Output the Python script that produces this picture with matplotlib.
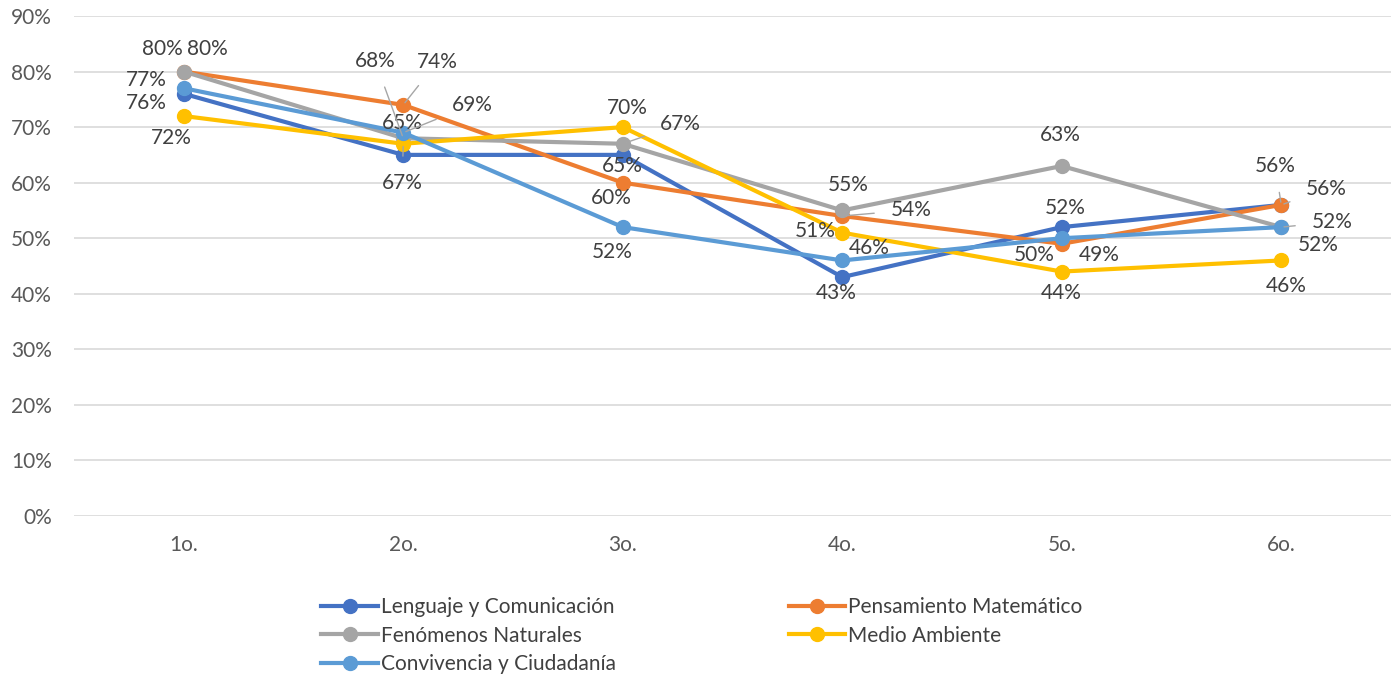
import numpy as np
import matplotlib.pyplot as plt
from matplotlib.lines import Line2D

plt.rcParams['font.family'] = ['Lato', 'DejaVu Sans']

grados = ["1o.", "2o.", "3o.", "4o.", "5o.", "6o."]
lenguaje = [76, 65, 65, 43, 52, 56]
pensamiento = [80, 74, 60, 54, 49, 56]
fenomenos = [80, 68, 67, 55, 63, 52]
medio = [72, 67, 70, 51, 44, 46]
convivencia = [77, 69, 52, 46, 50, 52]

series = [
    ("Lenguaje y Comunicación", lenguaje, "#4472C4"),
    ("Pensamiento Matemático", pensamiento, "#ED7D31"),
    ("Fenómenos Naturales", fenomenos, "#A5A5A5"),
    ("Medio Ambiente", medio, "#FFC000"),
    ("Convivencia y Ciudadanía", convivencia, "#5B9BD5"),
]

# label offsets in pixels (dx, dy, leader line?) per series / category
offsets = {
    "Lenguaje y Comunicación": [(-37, -9, 0), (-1, 32, 0), (0, -11, 0), (-6, -16, 0), (3, 19, 0), (-6, 39, 1)],
    "Pensamiento Matemático": [(24, 23, 0), (34, 43, 1), (-11, -15, 0), (69, 6, 1), (37, -11, 0), (45, 16, 1)],
    "Fenómenos Naturales": [(-21, 23, 0), (-28, 77, 1), (58, 20, 1), (6, 25, 0), (-1, 31, 0), (51, 5, 1)],
    "Medio Ambiente": [(-12, -22, 0), (-1, -39, 1), (5, 19, 0), (-27, 2, 0), (-1, -21, 0), (5, -26, 0)],
    "Convivencia y Ciudadanía": [(-37, 8, 0), (69, 28, 1), (-11, -25, 0), (27, 12, 0), (-28, -17, 0), (37, -18, 0)],
}

fig = plt.figure(figsize=(13.98, 6.76), dpi=100)
ax = fig.add_axes([74 / 1398, 1 - 516 / 676, (1391 - 74) / 1398, 500 / 676])

x = np.arange(len(grados))
txt_color = "#404040"
fs = 15

for name, vals, col in series:
    ax.plot(x, vals, color=col, lw=3, marker="o", ms=10, label=name, zorder=3,
            solid_capstyle="round")

for name, vals, col in series:
    for i, v in enumerate(vals):
        dx, dy, lead = offsets[name][i]
        if lead:
            ax.annotate(f"{v}%", (x[i], v), xytext=(dx, dy), textcoords="offset pixels",
                        ha="center", va="center", fontsize=fs, color=txt_color, zorder=5,
                        arrowprops=dict(arrowstyle="-", color="#A6A6A6", lw=1,
                                        shrinkA=10, shrinkB=2))
        else:
            ax.annotate(f"{v}%", (x[i], v), xytext=(dx, dy), textcoords="offset pixels",
                        ha="center", va="center", fontsize=fs, color=txt_color, zorder=5)

ax.set_xlim(-0.5, len(grados) - 0.5)
ax.set_ylim(0, 90)
ax.set_yticks(np.arange(0, 91, 10))
ax.set_yticklabels([f"{t}%" for t in range(0, 91, 10)])
ax.set_xticks(x)
ax.set_xticklabels(grados)
ax.tick_params(axis="both", length=0, labelsize=fs, labelcolor="#595959")
ax.tick_params(axis="y", pad=16)
ax.tick_params(axis="x", pad=14)
ax.grid(axis="y", color="#D9D9D9", lw=1.2)
ax.set_axisbelow(True)
for s in ax.spines.values():
    s.set_visible(False)

handles = []
for name, vals, col in series:
    handles.append(Line2D([0], [0], color=col, lw=3, marker="o", ms=10, label=name))
order = [0, 2, 4, 1, 3]
fig.legend([handles[k] for k in order], [series[k][0] for k in order],
           ncol=2, loc="upper left", bbox_to_anchor=(311 / 1398, 1 - 587 / 676),
           frameon=False, fontsize=fs, labelcolor=txt_color,
           handlelength=2.7, handletextpad=0.15, columnspacing=8.3,
           labelspacing=0.4, borderpad=0)

fig.savefig("out.png", dpi=100)
